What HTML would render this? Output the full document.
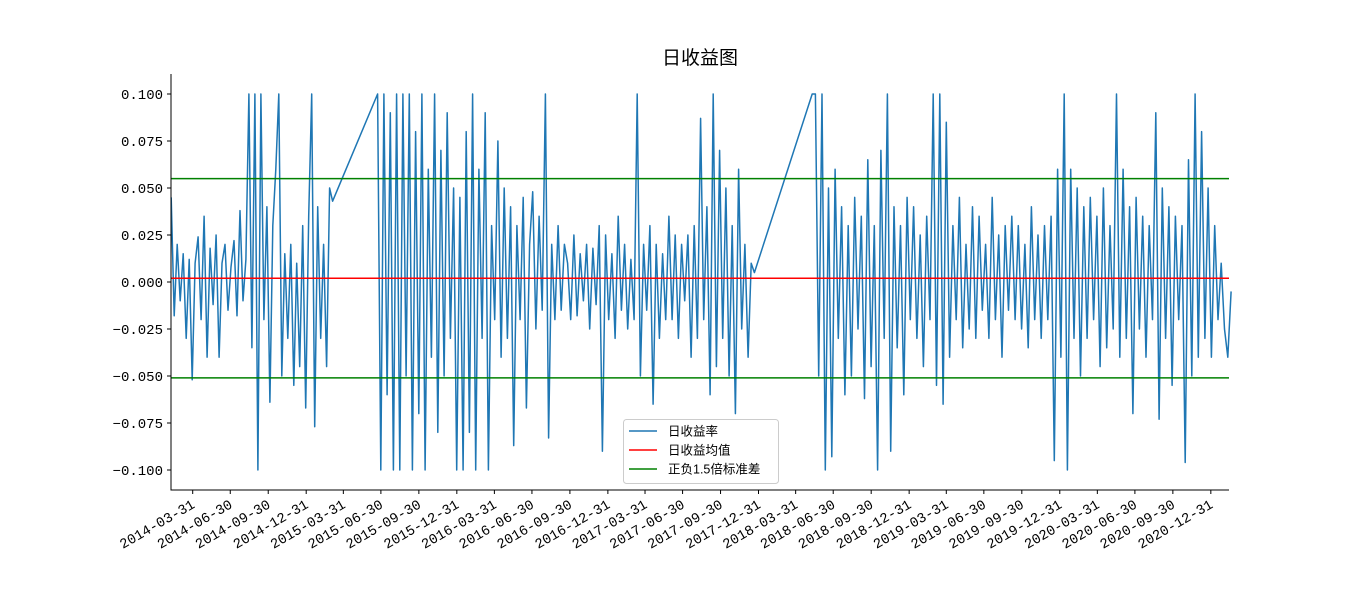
<!DOCTYPE html>
<html><head><meta charset="utf-8">
<style>
html,body{margin:0;padding:0;background:#fff;}
svg{display:block;font-family:"Liberation Sans","Noto Sans CJK SC","WenQuanYi Zen Hei",sans-serif;}
.mono{font-family:"Liberation Mono","Noto Sans CJK SC",monospace;}
</style></head>
<body>
<svg id="chart" width="1366" height="613" viewBox="0 0 1366 613" xmlns="http://www.w3.org/2000/svg">
<text x="700" y="64" text-anchor="middle" font-size="19" fill="#000">日收益图</text>
<g id="plot"></g>
</svg>
<script>
// ---- data ----
const segStarts = ["2014-02-07","2015-06-22","2018-05-10"];
const segEnds   = ["2015-03-05","2017-12-21","2021-02-18"];
const seg1 = [0.045,-0.018,0.02,-0.01,0.015,-0.03,0.012,-0.052,0.01,0.024,-0.02,0.035,-0.04,0.018,-0.012,0.025,-0.04,0.01,0.02,-0.015,0.008,0.022,-0.018,0.038,-0.01,0.012,0.1,-0.035,0.1,-0.1,0.1,-0.02,0.04,-0.064,0.03,0.06,0.1,-0.05,0.015,-0.03,0.02,-0.055,0.01,-0.045,0.03,-0.067,0.035,0.1,-0.077,0.04,-0.03,0.02,-0.045,0.05,0.043];
const seg2 = [0.1,-0.1,0.1,-0.06,0.09,-0.1,0.1,-0.1,0.1,-0.05,0.1,-0.1,0.08,-0.07,0.1,-0.1,0.06,-0.04,0.1,-0.08,0.07,-0.05,0.09,-0.03,0.05,-0.1,0.045,-0.1,0.08,-0.08,0.1,-0.1,0.06,-0.03,0.09,-0.1,0.03,-0.02,0.075,-0.04,0.05,-0.03,0.04,-0.087,0.03,-0.02,0.045,-0.067,0.02,0.048,-0.025,0.035,-0.015,0.1,-0.083,0.02,-0.02,0.03,-0.015,0.02,0.01,-0.02,0.025,-0.018,0.015,-0.01,0.02,-0.025,0.018,-0.012,0.03,-0.09,0.025,-0.02,0.015,-0.03,0.035,-0.015,0.02,-0.025,0.012,-0.02,0.1,-0.05,0.02,-0.015,0.03,-0.065,0.02,-0.03,0.015,-0.02,0.035,-0.02,0.025,-0.03,0.02,-0.01,0.025,-0.04,0.03,-0.03,0.087,-0.02,0.04,-0.06,0.1,-0.045,0.07,-0.03,0.05,-0.05,0.03,-0.07,0.06,-0.025,0.02,-0.04,0.01,0.005];
const seg3 = [0.1,0.1,-0.05,0.1,-0.1,0.05,-0.093,0.06,-0.03,0.04,-0.06,0.03,-0.05,0.045,-0.025,0.035,-0.062,0.065,-0.045,0.03,-0.1,0.07,-0.03,0.1,-0.09,0.04,-0.035,0.03,-0.06,0.045,-0.02,0.04,-0.03,0.025,-0.045,0.035,-0.02,0.1,-0.055,0.1,-0.065,0.085,-0.04,0.03,-0.02,0.045,-0.035,0.02,-0.025,0.04,-0.03,0.035,-0.015,0.02,-0.03,0.045,-0.02,0.025,-0.04,0.03,-0.015,0.035,-0.02,0.03,-0.025,0.02,-0.035,0.04,-0.02,0.025,-0.03,0.03,-0.02,0.035,-0.095,0.06,-0.04,0.1,-0.1,0.06,-0.03,0.05,-0.05,0.04,-0.03,0.045,-0.02,0.035,-0.045,0.05,-0.035,0.03,-0.025,0.1,-0.04,0.06,-0.03,0.04,-0.07,0.045,-0.025,0.035,-0.04,0.03,-0.02,0.09,-0.073,0.05,-0.03,0.04,-0.055,0.035,-0.02,0.03,-0.096,0.065,-0.05,0.1,-0.04,0.08,-0.03,0.05,-0.04,0.03,-0.02,0.01,-0.025,-0.04,-0.005];
const meanValue = 0.002;
const bandUpper = 0.055;
const bandLower = -0.051;
const yTicks = [0.100,0.075,0.050,0.025,0.000,-0.025,-0.050,-0.075,-0.100];
const xTickLabels = ["2014-03-31","2014-06-30","2014-09-30","2014-12-31","2015-03-31","2015-06-30","2015-09-30","2015-12-31","2016-03-31","2016-06-30","2016-09-30","2016-12-31","2017-03-31","2017-06-30","2017-09-30","2017-12-31","2018-03-31","2018-06-30","2018-09-30","2018-12-31","2019-03-31","2019-06-30","2019-09-30","2019-12-31","2020-03-31","2020-06-30","2020-09-30","2020-12-31"];
const legendLabels = ["日收益率","日收益均值","正负1.5倍标准差"];

// ---- scales ----
const L=171,R=1229,T=74,B=490;
const d0=Date.parse("2014-03-31");
function xs(dateStr){return 192.7+(Date.parse(dateStr)-d0)/86400000*0.4127;}
function xsMs(ms){return 192.7+(ms-d0)/86400000*0.4127;}
function ys(v){return 282-v*1880;}
const NS="http://www.w3.org/2000/svg";
const g=document.getElementById('plot');
function mk(tag,attrs,parent){const e=document.createElementNS(NS,tag);for(const k in attrs)e.setAttribute(k,attrs[k]);(parent||g).appendChild(e);return e;}

// series
const segs=[seg1,seg2,seg3];
let pts=[];
segs.forEach((vals,i)=>{
  const a=Date.parse(segStarts[i]),b=Date.parse(segEnds[i]);
  vals.forEach((v,j)=>{
    const t=a+(b-a)*j/(vals.length-1);
    pts.push(xsMs(t).toFixed(1)+","+ys(v).toFixed(1));
  });
});
const line=mk('polyline',{points:pts.join(" "),fill:"none",stroke:"#1f77b4","stroke-width":1.5,"stroke-linejoin":"round"});



const ml=mk('line',{x1:L,x2:R,y1:ys(meanValue),y2:ys(meanValue),stroke:"#ff0000","stroke-width":1.5});


[bandUpper,bandLower].forEach((v,i)=>{
  const l=mk('line',{x1:L,x2:R,y1:ys(v),y2:ys(v),stroke:"#008000","stroke-width":1.5});
  
  
});

// axes
const ax=mk('path',{d:`M${L},${T}V${B}H${R}`,fill:"none",stroke:"#000","stroke-width":1});


yTicks.forEach(v=>{
  const y=ys(v);
  mk('line',{x1:L-4,x2:L,y1:y,y2:y,stroke:"#000"});
  const t=mk('text',{x:L-8,y:y+5,"text-anchor":"end","font-size":14,fill:"#000","class":"mono"});
  t.textContent=(v<0?"\u2212":"")+Math.abs(v).toFixed(3);
  
  
});
xTickLabels.forEach(s=>{
  const x=xs(s);
  mk('line',{x1:x,x2:x,y1:B,y2:B+4,stroke:"#000"});
  const t=mk('text',{x:x+3,y:B+17,"text-anchor":"end","font-size":14,fill:"#000","class":"mono",transform:`rotate(-30 ${x+3} ${B+17})`});
  t.textContent=s;
  
  
});

// legend
const lg=mk('g',{});


mk('rect',{x:623.5,y:419.5,width:155,height:64,rx:3,fill:"#fff","fill-opacity":0.85,stroke:"#ccc"},lg);
const cols=["#1f77b4","#ff0000","#008000"];
legendLabels.forEach((s,i)=>{
  const y=431+i*19;
  mk('line',{x1:629,x2:657,y1:y,y2:y,stroke:cols[i],"stroke-width":1.5},lg);
  const t=mk('text',{x:668,y:y+4.5,"font-size":12.5,fill:"#000"},lg);
  t.textContent=s;
  
  
});
</script>
</body></html>
